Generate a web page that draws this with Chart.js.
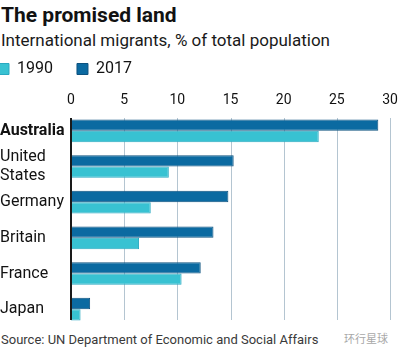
<!DOCTYPE html>
<html>
<head>
<meta charset="utf-8">
<script src="https://cdn.jsdelivr.net/npm/chart.js@4.4.1/dist/chart.umd.min.js"></script>
<style>
  body { margin: 0; width: 400px; height: 353px; background: #fff; position: relative; overflow: hidden; font-family: Roboto, sans-serif; color: #121212; }
  .txt { position: absolute; left: 1px; line-height: 1; white-space: nowrap; }
  #title { top: 5px; font-size: 21px; font-weight: bold; }
  #subtitle { top: 32px; font-size: 17px; color: #1a1a1a; }
  #source { top: 333px; font-size: 13px; color: #3a3a3a; }
  #mark { top: 333px; left: 344px; font-size: 11px; color: #a8a8a8; font-family: "Noto Sans CJK SC", sans-serif; }
  #wrap { position: absolute; left: 0; top: 37px; width: 400px; height: 290px; }
</style>
</head>
<body>
<div class="txt" id="title">The promised land</div>
<div class="txt" id="subtitle">International migrants, % of total population</div>
<div id="wrap"><canvas id="chart"></canvas></div>
<div class="txt" id="source">Source: UN Department of Economic and Social Affairs</div>
<div class="txt" id="mark">环行星球</div>
<script>
// data
const countries = ['Australia', ['United', 'States'], 'Germany', 'Britain', 'France', 'Japan'];
const share2017 = [28.9, 15.3, 14.8, 13.4, 12.2, 1.8];
const share1990 = [23.3, 9.2, 7.5, 6.4, 10.4, 0.9];
const xTicks = [0, 5, 10, 15, 20, 25, 30];

// vertical grid lines + the dark zero line, kept a bit shorter than the plot area
const gridLines = {
  id: 'gridLines',
  beforeDatasetsDraw(chart) {
    const {ctx, chartArea, scales: {x}} = chart;
    ctx.save();
    ctx.strokeStyle = '#b4c5d1';
    ctx.lineWidth = 1;
    xTicks.slice(1).forEach(v => {
      const px = Math.round(x.getPixelForValue(v)) + 0.5;
      ctx.beginPath();
      ctx.moveTo(px, chartArea.top + 5);
      ctx.lineTo(px, chartArea.bottom - 7);
      ctx.stroke();
    });
    ctx.restore();
  },
  afterDatasetsDraw(chart) {
    const {ctx, chartArea, scales: {x}} = chart;
    const px = x.getPixelForValue(0);
    ctx.save();
    ctx.strokeStyle = '#1a1a1a';
    ctx.lineWidth = 2;
    ctx.beginPath();
    ctx.moveTo(px, chartArea.top + 5);
    ctx.lineTo(px, chartArea.bottom - 7);
    ctx.stroke();
    ctx.restore();
  }
};

// pull the legend to the left edge (labels.padding also sets the gap between items)
const legendShift = {
  id: 'legendShift',
  afterLayout(chart) {
    chart.legend.left -= 26;
    chart.legend.right -= 26;
  }
};

Chart.defaults.font.family = 'Roboto, sans-serif';
Chart.defaults.color = '#121212';

new Chart(document.getElementById('chart'), {
  type: 'bar',
  data: {
    labels: countries,
    datasets: [{
      label: '2017',
      data: share2017,
      backgroundColor: '#0b6aa1',
      borderColor: '#0d527f',
      borderWidth: 1
    }, {
      label: '1990',
      data: share1990,
      backgroundColor: '#38c2d2',
      borderColor: '#2aa9c1',
      borderWidth: 1
    }]
  },
  options: {
    indexAxis: 'y',
    responsive: true,
    maintainAspectRatio: false,
    animation: false,
    devicePixelRatio: 1,
    layout: { padding: { left: 0, right: 10, top: 0, bottom: 0 } },
    datasets: { bar: { categoryPercentage: 0.634, barPercentage: 1 } },
    plugins: {
      legend: {
        position: 'top',
        align: 'start',
        reverse: true,
        labels: {
          boxWidth: 11,
          boxHeight: 11,
          padding: 24,
          font: { size: 16 },
          color: '#121212'
        }
      },
      tooltip: { enabled: false }
    },
    scales: {
      x: {
        position: 'top',
        min: 0,
        max: 30,
        afterBuildTicks(scale) { scale.ticks = xTicks.map(v => ({ value: v })); },
        afterFit(scale) {
          scale.height = 26;
          scale.paddingLeft = 0;
          scale.paddingRight = 0;
        },
        grid: { display: false, drawTicks: false },
        border: { display: false },
        ticks: { padding: 4, font: { size: 14 }, color: '#121212' }
      },
      y: {
        afterFit(scale) {
          scale.width = 71;
          scale.paddingTop = 0;
          scale.paddingBottom = 0;
        },
        grid: { display: false, drawTicks: false },
        border: { display: false },
        ticks: {
          autoSkip: false,
          crossAlign: 'far',
          color: '#121212',
          font: ctx => ({ size: 16, lineHeight: 1.2, weight: ctx.index === 0 ? 'bold' : 'normal' })
        }
      }
    }
  },
  plugins: [gridLines, legendShift]
});
</script>
</body>
</html>
